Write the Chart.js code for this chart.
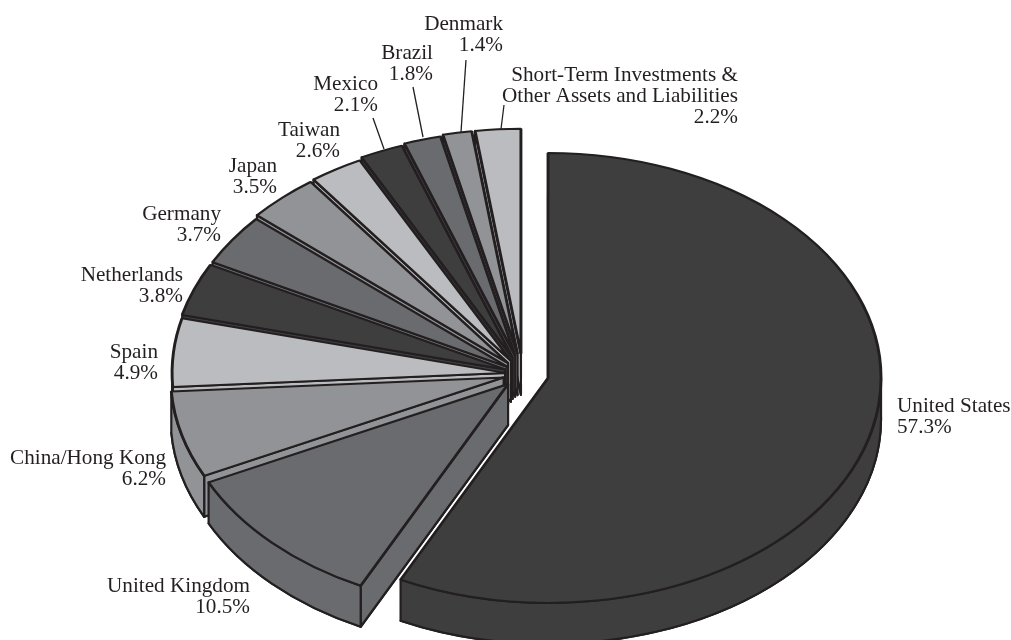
<!DOCTYPE html>
<html>
<head>
<meta charset="utf-8">
<title>Country allocation</title>
<style>
  html, body { margin: 0; padding: 0; background: #fff; overflow: hidden; }
  canvas { display: block; }
</style>
<script src="https://cdn.jsdelivr.net/npm/chart.js@4/dist/chart.umd.js"></script>
</head>
<body>
<canvas id="allocationPie" width="1011" height="640"></canvas>
<script>
const countries = ['United States', 'United Kingdom', 'China/Hong Kong', 'Spain', 'Netherlands', 'Germany',
    'Japan', 'Taiwan', 'Mexico', 'Brazil', 'Denmark', 'Short-Term Investments &\nOther Assets and Liabilities'];
const shares = [57.3, 10.5, 6.2, 4.9, 3.8, 3.7, 3.5, 2.6, 2.1, 1.8, 1.4, 2.2];

// Four greys, repeated round the pie
const greys = ['#3e3e3f', '#6a6b6e', '#929396', '#bbbcbf'];
const lineColor = '#231f20';

// How far each slice is pulled out of the pie, in px along the long axis
const explode = [25.7, 21, 20, 18, 19, 19, 22, 23, 26, 28, 30, 30];

// Flattened pie: screen centre, radii and wall height
const centerX = 523, centerY = 374;
const radiusX = 333, radiusY = 225;
const depth = 41;

// Label anchors: text edge and first baseline, same order as countries
const labelX = [897, 250, 166, 158, 183, 221, 277, 340, 378, 433, 503, 738];
const labelY = [412, 592, 464, 358, 281, 220, 172, 136, 90, 59, 30, 81];
const lineGap = 21;

// Leader lines for the narrow slices at the top
const leaders = [
    [373, 118, 384, 149],
    [413, 87, 423, 137],
    [466, 60, 461, 132],
    [504, 105, 501, 129]
];

class ExplodedPieController extends Chart.PieController {
    draw() {
        const ctx = this.chart.ctx;
        const arcs = this.getMeta().data;
        const r = arcs[0].outerRadius;
        const sx = radiusX / r;
        const sy = radiusY / r;
        const wall = depth / sy;

        ctx.save();
        ctx.translate(centerX, centerY);
        ctx.scale(sx, sy);
        ctx.translate(-arcs[0].x, -arcs[0].y);

        // walls first, from the back slice to the front one
        for (let i = arcs.length - 1; i >= 0; i--) {
            const arc = arcs[i];
            const mid = (arc.startAngle + arc.endAngle) / 2;
            const ax = arc.x + Math.cos(mid) * explode[i] / sx;
            const ay = arc.y + Math.sin(mid) * explode[i] / sx;
            const fill = greys[i % greys.length];

            const paint = () => {
                ctx.fillStyle = fill;
                ctx.fill();
                // stroke without the squash so the line stays even
                ctx.save();
                ctx.setTransform(1, 0, 0, 1, 0, 0);
                ctx.strokeStyle = lineColor;
                ctx.lineWidth = 2.2;
                ctx.lineJoin = 'round';
                ctx.stroke();
                ctx.restore();
            };

            // bottom of the slice
            ctx.beginPath();
            ctx.moveTo(ax, ay + wall);
            ctx.arc(ax, ay + wall, r, arc.startAngle, arc.endAngle);
            ctx.closePath();
            paint();

            // only the leading cut face looks towards the viewer
            if (Math.cos(arc.startAngle) < -1e-6) {
                const px = ax + Math.cos(arc.startAngle) * r;
                const py = ay + Math.sin(arc.startAngle) * r;
                ctx.beginPath();
                ctx.moveTo(ax, ay);
                ctx.lineTo(ax, ay + wall);
                ctx.lineTo(px, py + wall);
                ctx.lineTo(px, py);
                ctx.closePath();
                paint();
            }

            // rim, front half only
            const from = Math.max(arc.startAngle, 0);
            const to = Math.min(arc.endAngle, Math.PI);
            if (to > from) {
                ctx.beginPath();
                ctx.arc(ax, ay, r, from, to);
                ctx.arc(ax, ay + wall, r, to, from, true);
                ctx.closePath();
                paint();
            }
        }

        // top faces
        arcs.forEach((arc, i) => {
            const mid = (arc.startAngle + arc.endAngle) / 2;
            ctx.save();
            ctx.translate(Math.cos(mid) * explode[i] / sx, Math.sin(mid) * explode[i] / sx);
            arc.draw(ctx);
            ctx.restore();
        });
        ctx.restore();
    }
}
ExplodedPieController.id = 'explodedPie';
ExplodedPieController.defaults = Chart.PieController.defaults;
Chart.register(ExplodedPieController);

const pieLabels = {
    id: 'pieLabels',
    afterDatasetsDraw(chart) {
        const ctx = chart.ctx;
        ctx.save();
        ctx.strokeStyle = lineColor;
        ctx.lineWidth = 1.3;
        leaders.forEach(l => {
            ctx.beginPath();
            ctx.moveTo(l[0], l[1]);
            ctx.lineTo(l[2], l[3]);
            ctx.stroke();
        });

        ctx.fillStyle = lineColor;
        ctx.font = '21.2px "Liberation Serif"';
        ctx.textBaseline = 'alphabetic';
        countries.forEach((name, i) => {
            ctx.textAlign = i === 0 ? 'left' : 'right';
            const lines = name.split('\n').concat(shares[i].toFixed(1) + '%');
            lines.forEach((line, n) => {
                ctx.fillText(line, labelX[i], labelY[i] + n * lineGap);
            });
        });
        ctx.restore();
    }
};

new Chart(document.getElementById('allocationPie').getContext('2d'), {
    type: 'explodedPie',
    data: {
        labels: countries,
        datasets: [{
            data: shares,
            backgroundColor: countries.map((c, i) => greys[i % greys.length]),
            borderColor: lineColor,
            borderWidth: 2.8,
            clip: false
        }]
    },
    options: {
        responsive: false,
        maintainAspectRatio: false,
        animation: false,
        events: [],
        plugins: {
            legend: { display: false },
            tooltip: { enabled: false }
        }
    },
    plugins: [pieLabels]
});
</script>
</body>
</html>
